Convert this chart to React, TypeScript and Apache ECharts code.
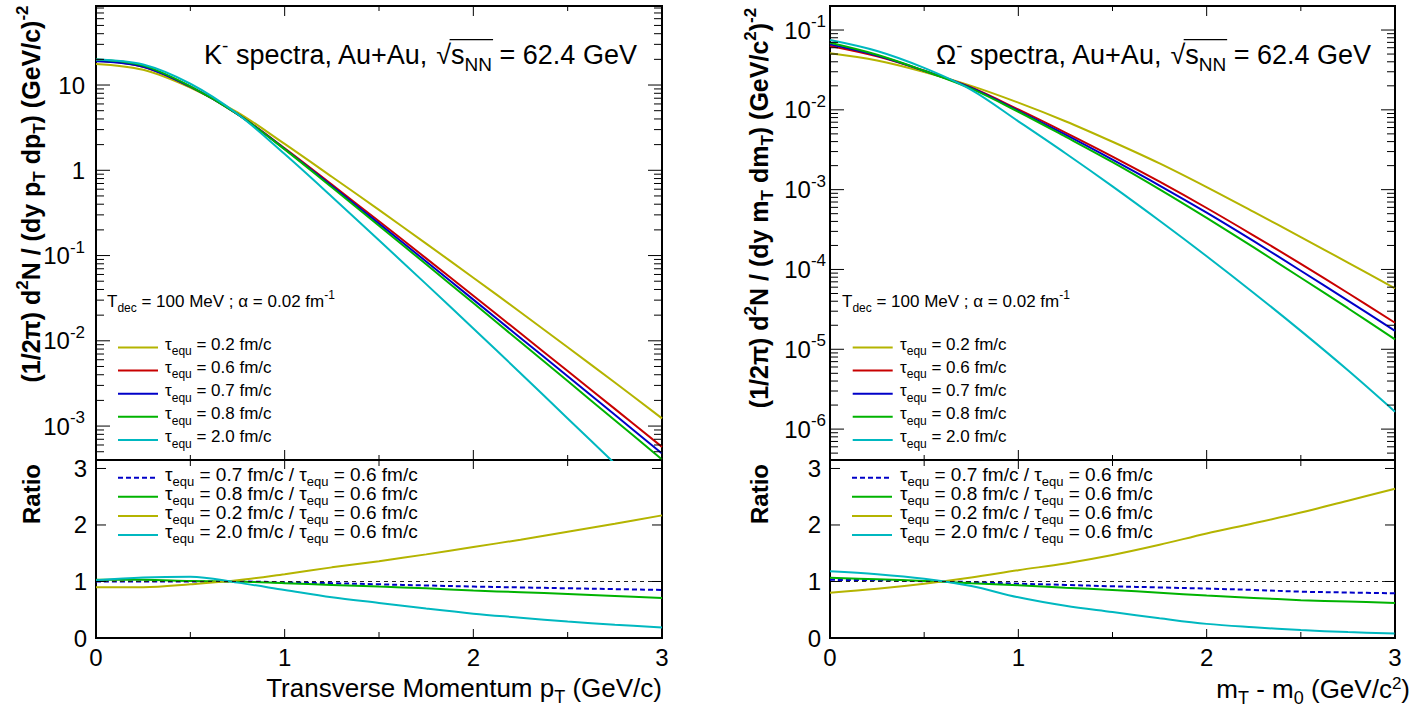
import React, { useEffect, useRef } from "react";
import * as echarts from "echarts";

// ---------------- data ----------------
const X_VALUES = [0, 0.25, 0.5, 0.75, 1, 1.25, 1.5, 1.75, 2, 2.25, 2.5, 2.75, 3];

// K- spectra (1/2pi) d2N/(dy pT dpT)
const K_TAU_02 = [17.7, 15.1, 9.33, 4.79, 2.04, 0.841, 0.343, 0.138, 0.055, 0.02163, 0.00841, 0.00324, 0.00123];
const K_TAU_06 = [19.3, 16.4, 9.57, 4.55, 1.81, 0.679, 0.252, 0.0927, 0.0338, 0.01225, 0.00442, 0.00159, 0.00057];
const K_TAU_07 = [19.05, 16.4, 9.55, 4.55, 1.78, 0.653, 0.237, 0.0851, 0.0304, 0.01081, 0.00384, 0.001355, 0.000478];
const K_TAU_08 = [19.95, 16.9, 9.66, 4.55, 1.76, 0.631, 0.224, 0.0789, 0.0277, 0.00966, 0.00337, 0.00117, 0.000406];
const K_TAU_20 = [19.95, 17.4, 10.35, 4.57, 1.55, 0.49, 0.151, 0.0462, 0.01396, 0.00417, 0.00123, 0.000363, 0.000105];

// K- ratios to tau = 0.6
const K_R07 = [1.0, 1.0, 1.0, 1.0, 0.985, 0.97, 0.95, 0.93, 0.91, 0.895, 0.88, 0.865, 0.85];
const K_R08 = [1.03, 1.03, 1.01, 1.0, 0.97, 0.94, 0.91, 0.88, 0.84, 0.81, 0.78, 0.745, 0.71];
const K_R02 = [0.9, 0.9, 0.95, 1.02, 1.13, 1.25, 1.36, 1.48, 1.61, 1.74, 1.88, 2.02, 2.17];
const K_R20 = [1.02, 1.07, 1.085, 0.98, 0.85, 0.72, 0.62, 0.52, 0.43, 0.36, 0.29, 0.235, 0.185];

// Omega- spectra (1/2pi) d2N/(dy mT dmT)
const O_TAU_02 = [0.0511, 0.0415, 0.0298, 0.01995, 0.0123, 0.0072, 0.00398, 0.00213, 0.001075, 0.000525, 0.000255, 0.000122, 0.0000579];
const O_TAU_06 = [0.0631, 0.0468, 0.0309, 0.01905, 0.01012, 0.00519, 0.0026, 0.001259, 0.000589, 0.000266, 0.0001175, 0.0000507, 0.0000215];
const O_TAU_07 = [0.0661, 0.0479, 0.0309, 0.01884, 0.0097, 0.00488, 0.002377, 0.001127, 0.000515, 0.000226, 0.0000964, 0.0000408, 0.00001698];
const O_TAU_08 = [0.0692, 0.049, 0.0309, 0.01841, 0.00946, 0.00461, 0.002208, 0.001007, 0.000442, 0.000189, 0.0000787, 0.0000327, 0.0000133];
const O_TAU_20 = [0.075, 0.0546, 0.0335, 0.01778, 0.00718, 0.002858, 0.0011, 0.000408, 0.0001466, 0.0000508, 0.000017, 0.00000545, 0.00000165];

// Omega- ratios to tau = 0.6
const O_R07 = [1.03, 1.02, 1.005, 0.99, 0.96, 0.94, 0.915, 0.895, 0.875, 0.85, 0.82, 0.805, 0.79];
const O_R08 = [1.065, 1.04, 1.01, 0.97, 0.935, 0.89, 0.85, 0.8, 0.75, 0.71, 0.67, 0.645, 0.62];
const O_R02 = [0.8, 0.87, 0.96, 1.07, 1.2, 1.32, 1.47, 1.65, 1.85, 2.03, 2.22, 2.43, 2.64];
const O_R20 = [1.18, 1.13, 1.05, 0.92, 0.72, 0.57, 0.46, 0.35, 0.25, 0.19, 0.14, 0.105, 0.08];

const TAU_LABELS = ["0.2", "0.6", "0.7", "0.8", "2.0"];
const RATIO_LABELS = ["0.7", "0.8", "0.2", "2.0"];
const X_MAJOR = [0, 1, 2, 3];
const X_MINOR = [0.5, 1.5, 2.5];
const RATIO_Y_TICKS = [0, 1, 2, 3];

// ---------------- style ----------------
const FONT = "'Liberation Sans', Arial, Helvetica, sans-serif";
const C = { y: "#b4b400", r: "#c80000", b: "#0000c8", g: "#00b300", c: "#00b8c0" };
const UPPER_COLORS = [C.y, C.r, C.b, C.g, C.c];
const RATIO_COLORS = [C.b, C.g, C.y, C.c];

const GRIDS = [
  { left: 96, top: 6, width: 566, height: 454 },
  { left: 96, top: 460, width: 566, height: 178 },
  { left: 830, top: 6, width: 565, height: 454 },
  { left: 830, top: 460, width: 565, height: 178 },
];

type Seg = { t: string; s: number; dy?: number; b?: boolean };

let mctx: CanvasRenderingContext2D | null = null;
function measure(t: string, s: number, b?: boolean) {
  if (!mctx) mctx = document.createElement("canvas").getContext("2d");
  mctx!.font = `${b ? "bold " : ""}${s}px ${FONT}`;
  return mctx!.measureText(t).width;
}

function layout(segs: Seg[], x: number, baseline: number, align: "left" | "center" | "right") {
  const widths = segs.map((sg) => measure(sg.t, sg.s, sg.b));
  const total = widths.reduce((a, b) => a + b, 0);
  let cur = align === "left" ? x : align === "right" ? x - total : x - total / 2;
  const els: any[] = [];
  const pos: [number, number][] = [];
  segs.forEach((sg, i) => {
    const lead = sg.t.length - sg.t.replace(/^\s+/, "").length;
    const leadW = lead ? measure(sg.t.slice(0, lead), sg.s, sg.b) : 0;
    const txt = sg.t.trim();
    const w = txt ? measure(txt, sg.s, sg.b) : 0;
    if (txt) {
      els.push({
        type: "text",
        x: cur + leadW,
        y: baseline - (sg.dy || 0) - 0.35 * sg.s,
        silent: true,
        style: {
          text: txt,
          fontSize: sg.s,
          fontFamily: FONT,
          fontWeight: sg.b ? "bold" : "normal",
          fill: "#000",
          align: "left",
          verticalAlign: "middle",
        },
      });
    }
    pos.push([cur + leadW, cur + leadW + w]);
    cur += widths[i];
  });
  return { els, pos, total };
}

function titleLine(particle: string, cx: number, baseline: number) {
  const S = 27;
  const s = 19;
  const segs: Seg[] = [
    { t: particle, s: S },
    { t: "-", s, dy: 12 },
    { t: " spectra, Au+Au, ", s: S },
    { t: "√", s: S },
    { t: "s", s: S },
    { t: "NN", s, dy: -7 },
    { t: " = 62.4 GeV", s: S },
  ];
  const { els, pos } = layout(segs, cx, baseline, "center");
  els.push({
    type: "line",
    silent: true,
    shape: { x1: pos[3][1] - 1.5, y1: baseline - 0.9 * S, x2: pos[5][1] + 1, y2: baseline - 0.9 * S },
    style: { stroke: "#000", lineWidth: 1.3 },
  });
  return els;
}

function tdecLine(x: number, baseline: number) {
  return layout(
    [
      { t: "T", s: 17 },
      { t: "dec", s: 12, dy: -5 },
      { t: " = 100 MeV ; α = 0.02 fm", s: 17 },
      { t: "-1", s: 12, dy: 8 },
    ],
    x,
    baseline,
    "left"
  ).els;
}

function upperLegend(x0: number, textX: number) {
  const els: any[] = [];
  TAU_LABELS.forEach((lab, i) => {
    const yr = 347.5 + i * 23.1;
    els.push({
      type: "line",
      silent: true,
      shape: { x1: x0, y1: yr, x2: x0 + 40, y2: yr },
      style: { stroke: UPPER_COLORS[i], lineWidth: 2 },
    });
    els.push(
      ...layout(
        [
          { t: "τ", s: 17 },
          { t: "equ", s: 12, dy: -5 },
          { t: ` = ${lab} fm/c`, s: 17 },
        ],
        textX,
        yr + 3,
        "left"
      ).els
    );
  });
  return els;
}

function ratioLegend(x0: number, textX: number) {
  const els: any[] = [];
  RATIO_LABELS.forEach((lab, i) => {
    const yr = 477.7 + i * 19.1;
    els.push({
      type: "line",
      silent: true,
      shape: { x1: x0, y1: yr, x2: x0 + 40, y2: yr },
      style: { stroke: RATIO_COLORS[i], lineWidth: 2, lineDash: i === 0 ? [5, 3] : null },
    });
    els.push(
      ...layout(
        [
          { t: "τ", s: 19 },
          { t: "equ", s: 13, dy: -5 },
          { t: ` = ${lab} fm/c / `, s: 19 },
          { t: "τ", s: 19 },
          { t: "equ", s: 13, dy: -5 },
          { t: " = 0.6 fm/c", s: 19 },
        ],
        textX,
        yr + 3,
        "left"
      ).els
    );
  });
  return els;
}

function rotated(segs: Seg[], cx: number, cy: number) {
  const mainS = segs[0].s;
  const { els } = layout(segs, 0, 0.35 * mainS, "center");
  return { type: "group", x: cx, y: cy, rotation: Math.PI / 2, silent: true, children: els };
}

const B = 25;
const bs = 17;
const Y_TITLE_K: Seg[] = [
  { t: "(1/2π) d", s: B, b: true },
  { t: "2", s: bs, dy: 11, b: true },
  { t: "N / (dy p", s: B, b: true },
  { t: "T", s: bs, dy: -6, b: true },
  { t: " dp", s: B, b: true },
  { t: "T", s: bs, dy: -6, b: true },
  { t: ") (GeV/c)", s: B, b: true },
  { t: "-2", s: bs, dy: 11, b: true },
];
const Y_TITLE_O: Seg[] = [
  { t: "(1/2π) d", s: B, b: true },
  { t: "2", s: bs, dy: 11, b: true },
  { t: "N / (dy m", s: B, b: true },
  { t: "T", s: bs, dy: -6, b: true },
  { t: " dm", s: B, b: true },
  { t: "T", s: bs, dy: -6, b: true },
  { t: ") (GeV/c", s: B, b: true },
  { t: "2", s: bs, dy: 11, b: true },
  { t: ")", s: B, b: true },
  { t: "-2", s: bs, dy: 11, b: true },
];

// ---------------- ticks (custom series via axis scales) ----------------
function logTicks(min: number, max: number) {
  const out: [number, boolean][] = [];
  for (let d = -8; d <= 2; d++) {
    for (let m = 1; m <= 9; m++) {
      const v = m * Math.pow(10, d);
      if (v >= min * 0.999 && v <= max * 1.001) out.push([v, m === 1]);
    }
  }
  return out;
}

function tickSeries(g: number, yRef: number, yTicks: [number, boolean][], lens: number[]) {
  const [xMaj, xMin, yMaj, yMin] = lens;
  const data: number[][] = [];
  X_MAJOR.forEach((v) => data.push([v, yRef, xMaj, 0]));
  X_MINOR.forEach((v) => data.push([v, yRef, xMin, 0]));
  yTicks.forEach(([v, major]) => data.push([0, v, major ? yMaj : yMin, 1]));
  return {
    type: "custom",
    xAxisIndex: g,
    yAxisIndex: g,
    silent: true,
    clip: false,
    z: 10,
    data,
    renderItem: (params: any, api: any) => {
      const cs = params.coordSys;
      const l = cs.x, r = cs.x + cs.width, t = cs.y, b = cs.y + cs.height;
      const len = api.value(2);
      const orient = api.value(3);
      const p = api.coord([api.value(0), api.value(1)]);
      const style = { stroke: "#000", lineWidth: 1 };
      if (orient === 0) {
        const x = p[0];
        return {
          type: "group",
          children: [
            { type: "line", shape: { x1: x, y1: b, x2: x, y2: b - len }, style },
            { type: "line", shape: { x1: x, y1: t, x2: x, y2: t + len }, style },
          ],
        };
      }
      const y = p[1];
      return {
        type: "group",
        children: [
          { type: "line", shape: { x1: l, y1: y, x2: l + len, y2: y }, style },
          { type: "line", shape: { x1: r, y1: y, x2: r - len, y2: y }, style },
        ],
      };
    },
  };
}

function lineSeries(name: string, values: number[], color: string, g: number, dashed = false, extra: any = {}) {
  return {
    type: "line",
    name,
    xAxisIndex: g,
    yAxisIndex: g,
    data: X_VALUES.map((x, i) => [x, values[i]]),
    showSymbol: false,
    symbol: "none",
    smooth: 0.35,
    clip: true,
    lineStyle: { color, width: 2, type: dashed ? [5, 3] : "solid" },
    itemStyle: { color },
    z: 3,
    ...extra,
  };
}

const ONE_LINE = {
  markLine: {
    silent: true,
    symbol: ["none", "none"],
    label: { show: false },
    lineStyle: { color: "#222", width: 1, type: [4, 4] },
    data: [{ yAxis: 1 }],
  },
};

function logLabel(v: number) {
  const lg = Math.log10(v);
  const e = Math.round(lg);
  if (Math.abs(lg - e) > 1e-3) return "";
  if (e === 0) return "{m|1}";
  if (e === 1) return "{m|10}";
  return `{m|10}{s|${e}}`;
}

const LOG_RICH = {
  m: { fontSize: 24, fontFamily: FONT, color: "#000", lineHeight: 34 },
  s: { fontSize: 17, fontFamily: FONT, color: "#000", lineHeight: 17, verticalAlign: "top" },
};

function buildOption() {
  const K_MIN = 4e-4, K_MAX = 84.5;
  const O_MIN = 4.1e-7, O_MAX = 0.2;
  const xAxis = GRIDS.map((_, i) => ({
    type: "value",
    gridIndex: i,
    min: 0,
    max: 3,
    interval: 1,
    axisLine: { show: false },
    axisTick: { show: false },
    splitLine: { show: false },
    axisLabel:
      i % 2 === 1
        ? { show: true, fontSize: 24, fontFamily: FONT, color: "#000", margin: 7 }
        : { show: false },
  }));
  const ratioY = (i: number) => ({
    type: "value",
    gridIndex: i,
    min: 0,
    max: 3.15,
    interval: 1,
    axisLine: { show: false },
    axisTick: { show: false },
    splitLine: { show: false },
    axisLabel: {
      fontSize: 24,
      fontFamily: FONT,
      color: "#000",
      margin: 9,
      formatter: (v: number) => (Math.abs(v - Math.round(v)) < 1e-6 ? String(Math.round(v)) : ""),
    },
  });
  const yAxis = [
    {
      type: "log",
      logBase: 10,
      gridIndex: 0,
      min: K_MIN,
      max: K_MAX,
      axisLine: { show: false },
      axisTick: { show: false },
      splitLine: { show: false },
      axisLabel: { formatter: logLabel, rich: LOG_RICH, margin: 11 },
    },
    ratioY(1),
    {
      type: "log",
      logBase: 10,
      gridIndex: 2,
      min: O_MIN,
      max: O_MAX,
      axisLine: { show: false },
      axisTick: { show: false },
      splitLine: { show: false },
      axisLabel: { formatter: logLabel, rich: LOG_RICH, margin: 4 },
    },
    ratioY(3),
  ];

  const up = (arrs: number[][], g: number) =>
    arrs.map((a, i) => lineSeries(`τequ = ${TAU_LABELS[i]} fm/c`, a, UPPER_COLORS[i], g));
  const rat = (arrs: number[][], g: number) =>
    arrs.map((a, i) =>
      lineSeries(`τequ = ${RATIO_LABELS[i]} fm/c / τequ = 0.6 fm/c`, a, RATIO_COLORS[i], g, i === 0, i === 0 ? ONE_LINE : {})
    );

  const ratioTicks: [number, boolean][] = RATIO_Y_TICKS.map((v) => [v, true]);

  const series: any[] = [
    ...up([K_TAU_02, K_TAU_06, K_TAU_07, K_TAU_08, K_TAU_20], 0),
    ...rat([K_R07, K_R08, K_R02, K_R20], 1),
    ...up([O_TAU_02, O_TAU_06, O_TAU_07, O_TAU_08, O_TAU_20], 2),
    ...rat([O_R07, O_R08, O_R02, O_R20], 3),
    tickSeries(0, K_MAX, logTicks(K_MIN, K_MAX), [10, 5, 14, 8]),
    tickSeries(1, 3, ratioTicks, [9, 6, 10, 6]),
    tickSeries(2, O_MAX, logTicks(O_MIN, O_MAX), [10, 5, 14, 8]),
    tickSeries(3, 3, ratioTicks, [9, 6, 10, 6]),
  ];

  const graphic: any[] = [
    ...titleLine("K", 420.5, 64),
    ...titleLine("Ω", 1153.5, 64),
    ...tdecLine(107, 307),
    ...tdecLine(842, 307),
    ...upperLegend(118, 165),
    ...upperLegend(852.7, 900),
    ...ratioLegend(118, 165),
    ...ratioLegend(852, 900),
    rotated(Y_TITLE_K, 31, 194),
    rotated(Y_TITLE_O, 759, 208),
    rotated([{ t: "Ratio", s: 24, b: true }], 31, 494),
    rotated([{ t: "Ratio", s: 24, b: true }], 759, 494),
    ...layout(
      [
        { t: "Transverse Momentum p", s: 26 },
        { t: "T", s: 18, dy: -6 },
        { t: " (GeV/c)", s: 26 },
      ],
      662,
      697,
      "right"
    ).els,
    ...layout(
      [
        { t: "m", s: 26 },
        { t: "T", s: 18, dy: -6 },
        { t: " - m", s: 26 },
        { t: "0", s: 18, dy: -6 },
        { t: " (GeV/c", s: 26 },
        { t: "2", s: 17, dy: 9 },
        { t: ")", s: 26 },
      ],
      1410,
      698,
      "right"
    ).els,
  ];

  return {
    animation: false,
    backgroundColor: "#fff",
    textStyle: { fontFamily: FONT },
    grid: GRIDS.map((g) => ({ ...g, show: true, borderColor: "#000", borderWidth: 2, backgroundColor: "transparent" })),
    xAxis,
    yAxis,
    series,
    graphic: { elements: graphic },
  };
}

export default function App() {
  const ref = useRef<HTMLDivElement>(null);
  useEffect(() => {
    const chart = echarts.init(ref.current!, null, { renderer: "svg" });
    chart.setOption(buildOption() as any);
    return () => chart.dispose();
  }, []);
  return (
    <div
      ref={ref}
      style={{ position: "absolute", left: 0, top: 0, width: 1426, height: 710, background: "#fff" }}
    />
  );
}
